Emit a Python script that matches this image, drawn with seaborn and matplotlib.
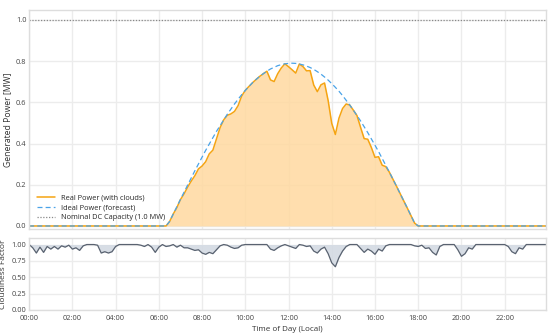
import matplotlib
matplotlib.use("Agg")
import matplotlib.pyplot as plt
import seaborn as sns
import numpy as np
import pandas as pd

# time axis: every 10 minutes, in hours
hours = np.arange(145) / 6.0

# cloudiness factor (1.0 = clear sky), one row per hour
cloudiness = [
    1.00, 0.95, 0.87, 0.96, 0.88, 0.97,
    0.93, 0.97, 0.93, 0.98, 0.96, 0.99,
    0.93, 0.95, 0.91, 0.98, 1.00, 1.00,
    1.00, 0.99, 0.87, 0.89, 0.87, 0.89,
    0.97, 1.00, 1.00, 1.00, 1.00, 1.00,
    1.00, 0.99, 0.97, 1.00, 0.96, 0.88,
    0.96, 1.00, 0.97, 0.98, 1.00, 0.96,
    0.99, 0.95, 0.95, 0.93, 0.91, 0.92,
    0.87, 0.85, 0.88, 0.86, 0.92, 0.98,
    1.00, 0.99, 0.96, 0.94, 0.95, 0.99,
    1.00, 1.00, 1.00, 1.00, 1.00, 1.00,
    1.00, 0.93, 0.91, 0.95, 0.98, 1.00,
    0.98, 0.96, 0.94, 1.00, 0.99, 0.97,
    0.98, 0.90, 0.87, 0.93, 0.96, 0.86,
    0.72, 0.66, 0.80, 0.90, 0.97, 1.00,
    1.00, 1.00, 0.94, 0.88, 0.93, 0.90,
    0.85, 0.93, 0.90, 0.98, 1.00, 1.00,
    1.00, 1.00, 1.00, 1.00, 1.00, 0.98,
    0.97, 0.99, 0.94, 0.95, 0.88, 0.84,
    0.97, 1.00, 1.00, 1.00, 1.00, 0.92,
    0.82, 0.86, 0.95, 0.93, 1.00, 1.00,
    1.00, 1.00, 1.00, 1.00, 1.00, 1.00,
    1.00, 0.97, 0.89, 0.86, 0.95, 0.93,
    1.00, 1.00, 1.00, 1.00, 1.00, 1.00,
    1.00,
]

# ideal (forecast) power in MW
ideal_power = [
    0, 0, 0, 0, 0, 0,
    0, 0, 0, 0, 0, 0,
    0, 0, 0, 0, 0, 0,
    0, 0, 0, 0, 0, 0,
    0, 0, 0, 0, 0, 0,
    0, 0, 0, 0, 0, 0,
    0, 0, 0, 0.022, 0.058, 0.093,
    0.129, 0.164, 0.199, 0.234, 0.268, 0.301,
    0.334, 0.367, 0.398, 0.428, 0.459, 0.487,
    0.515, 0.542, 0.567, 0.592, 0.615, 0.637,
    0.658, 0.677, 0.695, 0.711, 0.726, 0.739,
    0.751, 0.762, 0.770, 0.778, 0.783, 0.787,
    0.789, 0.790, 0.789, 0.786, 0.782, 0.776,
    0.769, 0.760, 0.749, 0.737, 0.723, 0.708,
    0.691, 0.673, 0.654, 0.633, 0.610, 0.587,
    0.562, 0.536, 0.510, 0.482, 0.453, 0.423,
    0.392, 0.361, 0.328, 0.294, 0.261, 0.227,
    0.192, 0.157, 0.122, 0.086, 0.050, 0.014,
    0, 0, 0, 0, 0, 0,
    0, 0, 0, 0, 0, 0,
    0, 0, 0, 0, 0, 0,
    0, 0, 0, 0, 0, 0,
    0, 0, 0, 0, 0, 0,
    0, 0, 0, 0, 0, 0,
    0,
]

# real power with clouds in MW
real_power = [
    0, 0, 0, 0, 0, 0,
    0, 0, 0, 0, 0, 0,
    0, 0, 0, 0, 0, 0,
    0, 0, 0, 0, 0, 0,
    0, 0, 0, 0, 0, 0,
    0, 0, 0, 0, 0, 0,
    0, 0, 0, 0.022, 0.058, 0.089,
    0.128, 0.156, 0.189, 0.218, 0.244, 0.277,
    0.291, 0.312, 0.350, 0.368, 0.422, 0.477,
    0.515, 0.537, 0.544, 0.556, 0.584, 0.631,
    0.658, 0.677, 0.695, 0.711, 0.726, 0.739,
    0.751, 0.709, 0.701, 0.739, 0.767, 0.787,
    0.773, 0.758, 0.742, 0.786, 0.774, 0.753,
    0.754, 0.684, 0.652, 0.685, 0.694, 0.609,
    0.498, 0.444, 0.523, 0.570, 0.592, 0.587,
    0.562, 0.536, 0.479, 0.424, 0.421, 0.381,
    0.333, 0.336, 0.295, 0.288, 0.261, 0.227,
    0.192, 0.157, 0.122, 0.086, 0.050, 0.014,
    0, 0, 0, 0, 0, 0,
    0, 0, 0, 0, 0, 0,
    0, 0, 0, 0, 0, 0,
    0, 0, 0, 0, 0, 0,
    0, 0, 0, 0, 0, 0,
    0, 0, 0, 0, 0, 0,
    0,
]

nominal_capacity = 1.0
tick_hours = list(range(0, 24, 2))
tick_labels = [f"{h:02d}:00" for h in tick_hours]

df = pd.DataFrame({
    "hour": hours,
    "cloud": cloudiness,
    "ideal": ideal_power,
    "real": real_power,
})

sns.set_theme(style="whitegrid")
plt.rcParams["font.family"] = ["Open Sans", "DejaVu Sans"]
plt.rcParams["axes.edgecolor"] = "#dddddd"
plt.rcParams["grid.color"] = "#ececec"
plt.rcParams["axes.linewidth"] = 1.0

fig, (ax, ax2) = plt.subplots(
    2, 1, figsize=(5.5, 3.35), dpi=100, sharex=True,
    gridspec_kw={"height_ratios": [3.05, 1]},
)
fig.subplots_adjust(left=0.053, right=0.993, top=0.97, bottom=0.075, hspace=0.06)

# top panel: generated power
ax.fill_between(df["hour"], 0, df["real"], color="#ffd9a0", alpha=0.85, linewidth=0)
sns.lineplot(data=df, x="hour", y="real", ax=ax, color="#f5a412", linewidth=1.1,
             label="Real Power (with clouds)")
sns.lineplot(data=df, x="hour", y="ideal", ax=ax, color="#4aa3e8", linewidth=0.9,
             linestyle=(0, (4, 2.5)), label="Ideal Power (forecast)")
ax.axhline(nominal_capacity, color="#888888", linewidth=0.9, linestyle=(0, (1, 1.3)),
           label="Nominal DC Capacity (1.0 MW)")

ax.set_ylim(-0.016, 1.048)
ax.set_yticks([0.0, 0.2, 0.4, 0.6, 0.8, 1.0])
ax.set_yticklabels(["0.0", "0.2", "0.4", "0.6", "0.8", "1.0"])
ax.set_ylabel("Generated Power [MW]", fontsize=6.2, color="#333333", labelpad=3)
ax.set_xlabel("")
ax.tick_params(axis="both", labelsize=5.3, colors="#444444", length=0, pad=2)
ax.tick_params(axis="x", labelbottom=False)
ax.legend(loc="lower left", fontsize=5.3, frameon=False, handlelength=2.4,
          borderaxespad=0.7, labelspacing=0.35)

# bottom panel: cloudiness factor
ax2.fill_between(df["hour"], df["cloud"], 1.0, color="#d3dae3", alpha=0.9, linewidth=0)
sns.lineplot(data=df, x="hour", y="cloud", ax=ax2, color="#596270", linewidth=0.9)
ax2.set_ylim(0, 1.1)
ax2.set_yticks([0, 0.25, 0.5, 0.75, 1.0])
ax2.set_yticklabels(["0.00", "0.25", "0.50", "0.75", "1.00"])
ax2.set_ylabel("Cloudiness Factor", fontsize=6.0, color="#333333", labelpad=3)
ax2.set_xlabel("Time of Day (Local)", fontsize=5.8, color="#333333", labelpad=3)
ax2.set_xlim(0, 23.92)
ax2.set_xticks(tick_hours)
ax2.set_xticklabels(tick_labels)
ax2.tick_params(axis="both", labelsize=5.3, colors="#444444", length=0, pad=2)
ax2.tick_params(axis="x", pad=3.5)

for a in (ax, ax2):
    for s in a.spines.values():
        s.set_color("#dddddd")

fig.savefig("out.png", dpi=100)
